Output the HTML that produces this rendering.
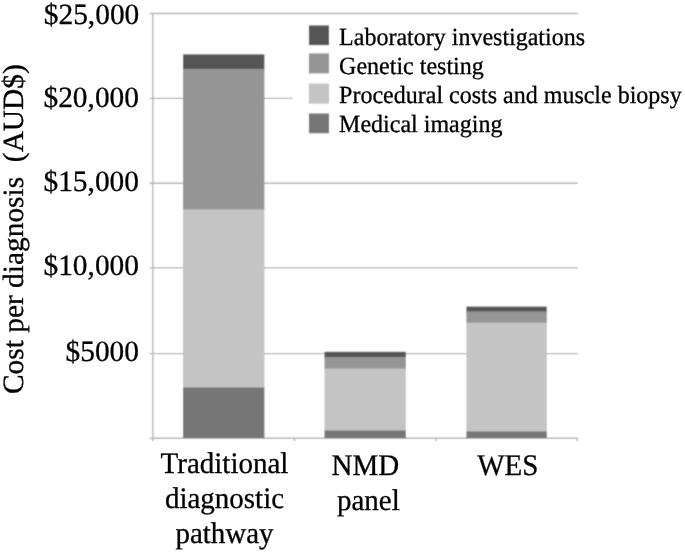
<!DOCTYPE html>
<html>
<head>
<meta charset="utf-8">
<style>
html,body{margin:0;padding:0;background:#fff;}
body{width:685px;height:552px;overflow:hidden;}
svg{display:block;will-change:transform;}
text{font-family:"Liberation Serif",serif;fill:#000;stroke:#000;stroke-width:0.3px;text-rendering:geometricPrecision;}
</style>
</head>
<body>
<svg width="685" height="552" viewBox="0 0 685 552">
  <defs><filter id="bl" x="0" y="0" width="685" height="552" filterUnits="userSpaceOnUse"><feConvolveMatrix order="3" kernelMatrix="1 2 1 2 10 2 1 2 1" divisor="22" edgeMode="duplicate"/></filter></defs>
  <g filter="url(#bl)">
  <rect x="0" y="0" width="685" height="552" fill="#fff"/>
  <!-- gridlines -->
  <g stroke="#b4b4b4" stroke-width="1.4" fill="none">
    <line x1="149.5" y1="13.5" x2="577.8" y2="13.5"/>
    <line x1="149.5" y1="98.4" x2="577.8" y2="98.4"/>
    <line x1="149.5" y1="183.3" x2="577.8" y2="183.3"/>
    <line x1="149.5" y1="267.9" x2="577.8" y2="267.9"/>
    <line x1="149.5" y1="353.6" x2="577.8" y2="353.6"/>
    <line x1="149.5" y1="438.2" x2="577.8" y2="438.2"/>
    <!-- y axis -->
    <line x1="152.8" y1="13.5" x2="152.8" y2="441.2"/>
    <!-- x ticks -->
    <line x1="294.4" y1="438" x2="294.4" y2="441.2"/>
    <line x1="435.8" y1="438" x2="435.8" y2="441.2"/>
    <line x1="577.3" y1="438" x2="577.3" y2="441.2"/>
  </g>
  <!-- bars -->
  <g>
    <rect x="183.0" y="54.35" width="81.4" height="15.72" fill="#545454"/>
    <rect x="183.0" y="68.87" width="81.4" height="141.76" fill="#959595"/>
    <rect x="183.0" y="209.43" width="81.4" height="179.27" fill="#c4c4c4"/>
    <rect x="183.0" y="387.5" width="81.4" height="50.5" fill="#767676"/>
    <rect x="324.5" y="351.76" width="81.3" height="6.42" fill="#545454"/>
    <rect x="324.5" y="356.98" width="81.3" height="12.76" fill="#959595"/>
    <rect x="324.5" y="368.54" width="81.3" height="63.2" fill="#c4c4c4"/>
    <rect x="324.5" y="430.54" width="81.3" height="7.46" fill="#767676"/>
    <rect x="466.4" y="306.54" width="80.4" height="6.06" fill="#545454"/>
    <rect x="466.4" y="311.4" width="80.4" height="12.45" fill="#959595"/>
    <rect x="466.4" y="322.65" width="80.4" height="110.03" fill="#c4c4c4"/>
    <rect x="466.4" y="431.48" width="80.4" height="6.52" fill="#767676"/>
  </g>
  <!-- legend -->
  <rect x="292.6" y="18" width="392.4" height="130" fill="#fff"/>
  <rect x="308.9" y="25.43" width="20.15" height="19.74" fill="#545454"/>
  <rect x="308.9" y="53.37" width="20.15" height="20.06" fill="#959595"/>
  <rect x="308.9" y="83.57" width="20.15" height="20.13" fill="#c4c4c4"/>
  <rect x="308.9" y="113.43" width="20.15" height="19.87" fill="#767676"/>
  </g>
  <g font-size="24">
    <text transform="translate(339.1,44.7) scale(1,1.03)">Laboratory investigations</text>
    <text transform="translate(339.1,73.7) scale(1,1.03)">Genetic testing</text>
    <text transform="translate(339.1,103.1) scale(1,1.03)">Procedural costs and muscle biopsy</text>
    <text transform="translate(339.1,132.3) scale(1,1.03)">Medical imaging</text>
  </g>
  <!-- y labels -->
  <g font-size="29.4" text-anchor="end">
    <text transform="translate(139.3,23.6)">$25,000</text>
    <text transform="translate(139,107.1)">$20,000</text>
    <text transform="translate(139,190.6)">$15,000</text>
    <text transform="translate(139,275.1)">$10,000</text>
    <text transform="translate(139,360.8)">$5000</text>
  </g>
  <!-- y title -->
  <text font-size="29.4" transform="translate(22.9,394.0) rotate(-90)" xml:space="preserve">Cost per diagnosis  (AUD$)</text>
  <!-- x labels -->
  <g font-size="29" text-anchor="middle">
    <text transform="translate(224.5,472.8) scale(1,1.03)">Traditional</text>
    <text transform="translate(224.5,507.8) scale(1,1.03)">diagnostic</text>
    <text transform="translate(224.5,543.3) scale(1,1.03)">pathway</text>
    <text transform="translate(365.3,474.6) scale(1,1.03)">NMD</text>
    <text transform="translate(368.3,509.8) scale(1,1.03)">panel</text>
    <text transform="translate(507.8,474.6) scale(1,1.03)">WES</text>
  </g>
</svg>
</body>
</html>
